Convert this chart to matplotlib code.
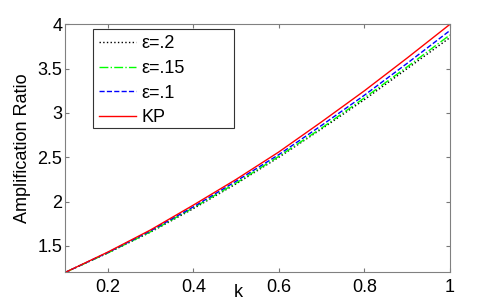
import matplotlib
matplotlib.use('Agg')
from matplotlib import pyplot as plt
from matplotlib.patches import Rectangle

plt.rcParams['font.family'] = ['Liberation Sans', 'DejaVu Sans']

#%% values
k = [0.1, 0.2, 0.3, 0.4, 0.5, 0.6, 0.7, 0.8, 0.9, 1.0]
amp_eps_02 = [1.20, 1.42, 1.655, 1.92, 2.20, 2.50, 2.82, 3.15, 3.50, 3.85]
amp_eps_015 = [1.20, 1.42, 1.66, 1.93, 2.21, 2.51, 2.83, 3.17, 3.52, 3.88]
amp_eps_01 = [1.20, 1.425, 1.67, 1.94, 2.23, 2.53, 2.86, 3.20, 3.56, 3.93]
amp_kp = [1.20, 1.43, 1.68, 1.96, 2.25, 2.56, 2.90, 3.25, 3.62, 4.00]

labels = ['\u03b5=.2', '\u03b5=.15', '\u03b5=.1', 'KP']
xticks = [0.2, 0.4, 0.6, 0.8, 1.0]
xticklabels = ['0.2', '0.4', '0.6', '0.8', '1']
yticks = [1.5, 2, 2.5, 3, 3.5, 4]
yticklabels = ['1.5', '2', '2.5', '3', '3.5', '4']

#%%
fig = plt.figure(figsize=(4.98, 3.07), dpi=100)
ax = fig.add_axes([0.1305, 0.1124, 0.773, 0.8084])

ax.plot(k, amp_eps_02, color='k', linestyle=':', lw=1.0, label=labels[0])
ax.plot(k, amp_eps_015, color=(0, 1, 0), linestyle='-.', lw=1.0, label=labels[1])
ax.plot(k, amp_eps_01, color=(0, 0, 1), linestyle='--', lw=1.0, label=labels[2])
ax.plot(k, amp_kp, color=(1, 0, 0), linestyle='-', lw=1.0, label=labels[3])

ax.set_xlim(0.1, 1.0)
ax.set_ylim(1.2, 4.0)
ax.set_xticks(xticks)
ax.set_xticklabels(xticklabels)
ax.set_yticks(yticks)
ax.set_yticklabels(yticklabels)
ax.tick_params(direction='in', top=True, right=True, labelsize=13,
               length=3, width=0.8, color='#777777')
ax.tick_params(axis='x', pad=5)
ax.tick_params(axis='y', pad=2)
for s in ax.spines.values():
    s.set_color('#808080')
    s.set_linewidth(0.8)

ax.set_xlabel('k', fontsize=13)
ax.xaxis.set_label_coords(0.449, -0.046)
ax.set_ylabel('Amplification Ratio', fontsize=13)
ax.yaxis.set_label_coords(-0.088, 0.5)

# legend box drawn separately, MATLAB style (wide frame)
ax.add_patch(Rectangle((0.0727, 0.582), 0.366, 0.399, transform=ax.transAxes,
                       facecolor='white', edgecolor='#333333', lw=0.8, zorder=4))
leg = ax.legend(loc='upper left', bbox_to_anchor=(0.073, 0.981), fontsize=13,
                handlelength=2.05, handletextpad=0.3, labelspacing=0.42,
                borderaxespad=0, borderpad=0.35, frameon=False)
leg.set_zorder(5)

fig.savefig('out.png', dpi=100)
